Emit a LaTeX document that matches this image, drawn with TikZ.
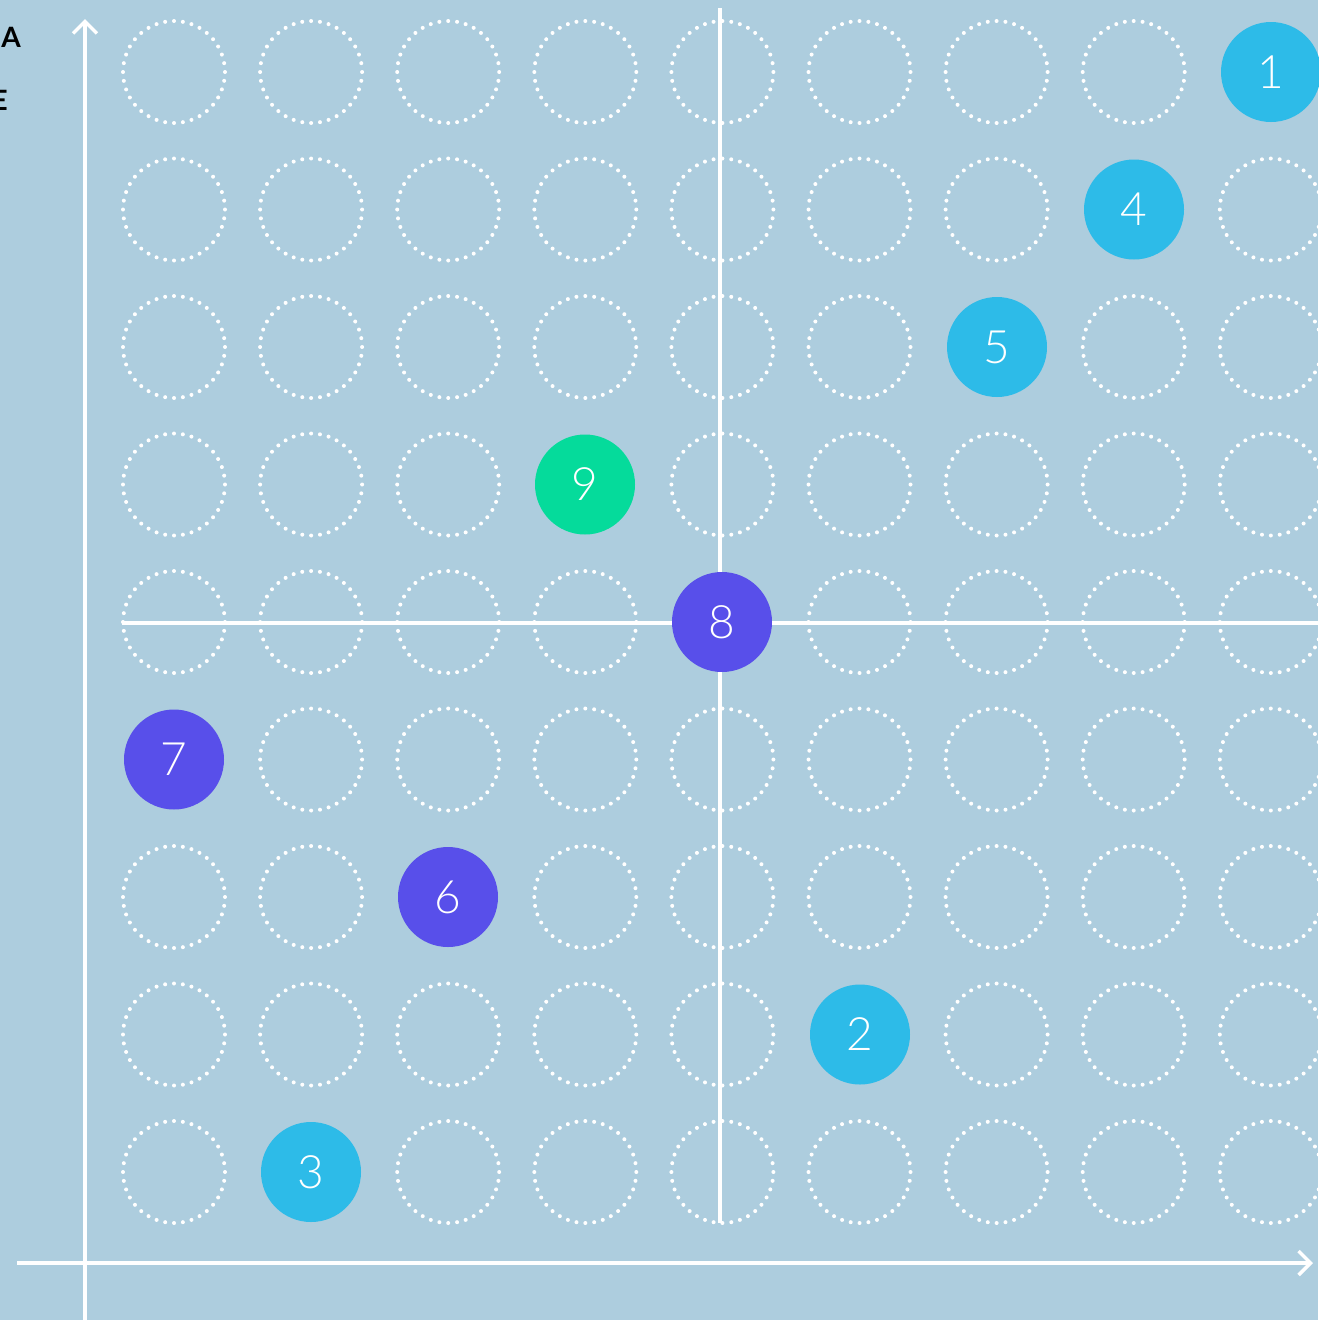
\documentclass[tikz,border=0pt]{standalone}
\usepackage{fontspec}
\setmainfont{Lato}
\newfontfamily\ballfont{Lato Light}
\usetikzlibrary{arrows.meta}
\definecolor{bg}{HTML}{ADCDDE}
\definecolor{cyanc}{HTML}{2DBBE8}
\definecolor{purplec}{HTML}{584FEA}
\definecolor{greenc}{HTML}{05DB9B}
\tikzset{
  dotring/.style={circle, minimum size=102pt, inner sep=0pt, draw=white, line width=4pt, line cap=round, dash pattern=on 0pt off 8.9pt},
  ball/.style={circle, minimum size=100pt, inner sep=0pt, text=white, font=\ballfont\fontsize{46}{48}\selectfont},
  gridline/.style={white, line width=3.5pt},
  axisline/.style={white, line width=3.5pt, -{Straight Barb[length=12pt,width=24pt,line width=3.5pt]}},
  axlabel/.style={font=\bfseries\fontsize{28}{30}\selectfont, text=black, inner sep=0pt}
}
\begin{document}
\begin{tikzpicture}[x=1pt,y=-1pt]
\fill[bg] (0,0) rectangle (1318,1320);
\useasboundingbox (0,0) rectangle (1318,1320);
% dotted rings (skipping the cells that hold a filled ball)
\foreach \i/\s in {1/6,2/9,3/7,4/4,5/5,6/8,7/3,8/2,9/1}{
  \foreach \j in {1,...,9}{
    \ifnum\j=\s\relax\else
      \node[dotring] (r-\i-\j) at ({174+137.1*(\i-1)},{72+137.5*(\j-1)}) {};
    \fi
  }
}
% axes
\coordinate (yb) at (85,1320);
\coordinate (yt) at (85,19);
\coordinate (xl) at (17,1263);
\coordinate (xr) at (1313,1263);
\draw[axisline] (yb) -- (yt);
\draw[axisline] (xl) -- (xr);
% cross lines
\coordinate (vt) at (720,8);
\coordinate (vb) at (720,1223);
\coordinate (hl) at (122,623);
\coordinate (hr) at (1318,623);
\draw[gridline] (vt) -- (vb);
\draw[gridline] (hl) -- (hr);
% labels
\node[axlabel, anchor=east] (la) at (21,37) {A};
\node[axlabel, anchor=east] (le) at (8,100) {E};
% filled balls
\node[ball, fill=cyanc] (n1) at (1271,72) {1};
\node[ball, fill=cyanc] (n4) at (1134,209.5) {4};
\node[ball, fill=cyanc] (n5) at (997,347) {5};
\node[ball, fill=greenc] (n9) at (585,484.5) {9};
\node[ball, fill=purplec] (n8) at (722,622) {8};
\node[ball, fill=purplec] (n7) at (174,759.5) {7};
\node[ball, fill=purplec] (n6) at (448,897) {6};
\node[ball, fill=cyanc] (n2) at (860,1034.5) {2};
\node[ball, fill=cyanc] (n3) at (311,1172) {3};
\end{tikzpicture}
\end{document}
